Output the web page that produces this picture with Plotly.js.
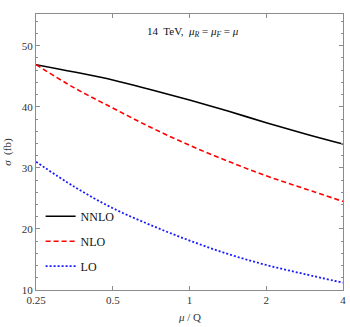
<!DOCTYPE html>
<html>
<head>
<meta charset="utf-8">
<script src="https://cdn.plot.ly/plotly-3.0.1.min.js"></script>
<style>html,body{margin:0;padding:0;background:#fff;}#chart{width:350px;height:327px;}</style>
</head>
<body>
<div id="chart"></div>
<script>
const muOverQ = [0.25, 0.3536, 0.5, 0.7071, 1, 1.4142, 2, 2.8284, 4];
const nnlo = [46.9, 45.7, 44.4, 42.8, 41.1, 39.3, 37.4, 35.6, 33.9];
const nlo  = [46.9, 43.1, 39.8, 36.6, 33.7, 31.1, 28.7, 26.6, 24.5];
const lo   = [31.0, 26.9, 23.4, 20.6, 18.1, 15.9, 14.1, 12.6, 11.2];
const xTickVals = [0.25, 0.5, 1, 2, 4];
const xTickText = ['0.25', '0.5', '1', '2', '4'];
const yTickVals = [10, 20, 30, 40, 50];

const serif = 'Liberation Serif, Times New Roman, serif';
const traces = [
  {x: muOverQ, y: nnlo, name: 'NNLO', legendgroup: 'a', mode: 'lines', line: {color: '#000000', width: 1.6, shape: 'spline'}},
  {x: muOverQ, y: nlo, name: 'NLO', legendgroup: 'b', mode: 'lines', line: {color: '#ff0000', width: 1.6, dash: '5px,3px', shape: 'spline'}},
  {x: muOverQ, y: lo, name: 'LO', legendgroup: 'c', mode: 'lines', line: {color: '#1a1aff', width: 1.8, dash: '2px,2px', shape: 'spline'}}
];
const axisCommon = {
  showline: true, mirror: 'allticks', linecolor: '#8c8c8c', linewidth: 1,
  ticks: 'inside', tickcolor: '#8c8c8c', ticklen: 4, tickwidth: 1,
  showgrid: false, zeroline: false,
  tickfont: {family: serif, size: 11, color: '#333'}
};
const layout = {
  width: 350, height: 327,
  margin: {l: 36, r: 7, t: 14, b: 37},
  paper_bgcolor: '#fff', plot_bgcolor: '#fff',
  showlegend: true,
  legend: {x: 0.015, y: 0.32, xanchor: 'left', yanchor: 'top', bgcolor: 'rgba(0,0,0,0)',
           font: {family: serif, size: 12, color: '#111'}, tracegroupgap: 6, itemwidth: 30},
  xaxis: Object.assign({}, axisCommon, {
    type: 'log', range: [Math.log10(0.25), Math.log10(4)],
    tickmode: 'array', tickvals: xTickVals, ticktext: xTickText
  }),
  yaxis: Object.assign({}, axisCommon, {
    range: [10, 55.2], tickmode: 'array', tickvals: yTickVals,
    minor: {dtick: 2, ticks: 'inside', ticklen: 2, tickcolor: '#8c8c8c'}
  }),
  annotations: [
    {xref: 'paper', yref: 'paper', x: 0.51, y: 0.935, xanchor: 'center', yanchor: 'middle', showarrow: false,
     text: '14  TeV,  <i>μ</i><sub><i>R</i></sub> = <i>μ</i><sub><i>F</i></sub> = <i>μ</i>',
     font: {family: serif, size: 11, color: '#111'}},
    {xref: 'paper', yref: 'paper', x: -0.095, y: 0.5, xanchor: 'center', yanchor: 'middle', showarrow: false,
     textangle: -90, text: '<i>σ</i>  (fb)', font: {family: serif, size: 11, color: '#333'}},
    {xref: 'paper', yref: 'paper', x: 0.5, y: -0.098, xanchor: 'center', yanchor: 'middle', showarrow: false,
     text: '<i>μ</i> / Q', font: {family: serif, size: 11, color: '#333'}}
  ]
};
Plotly.newPlot('chart', traces, layout, {displayModeBar: false, staticPlot: true});
</script>
</body>
</html>
